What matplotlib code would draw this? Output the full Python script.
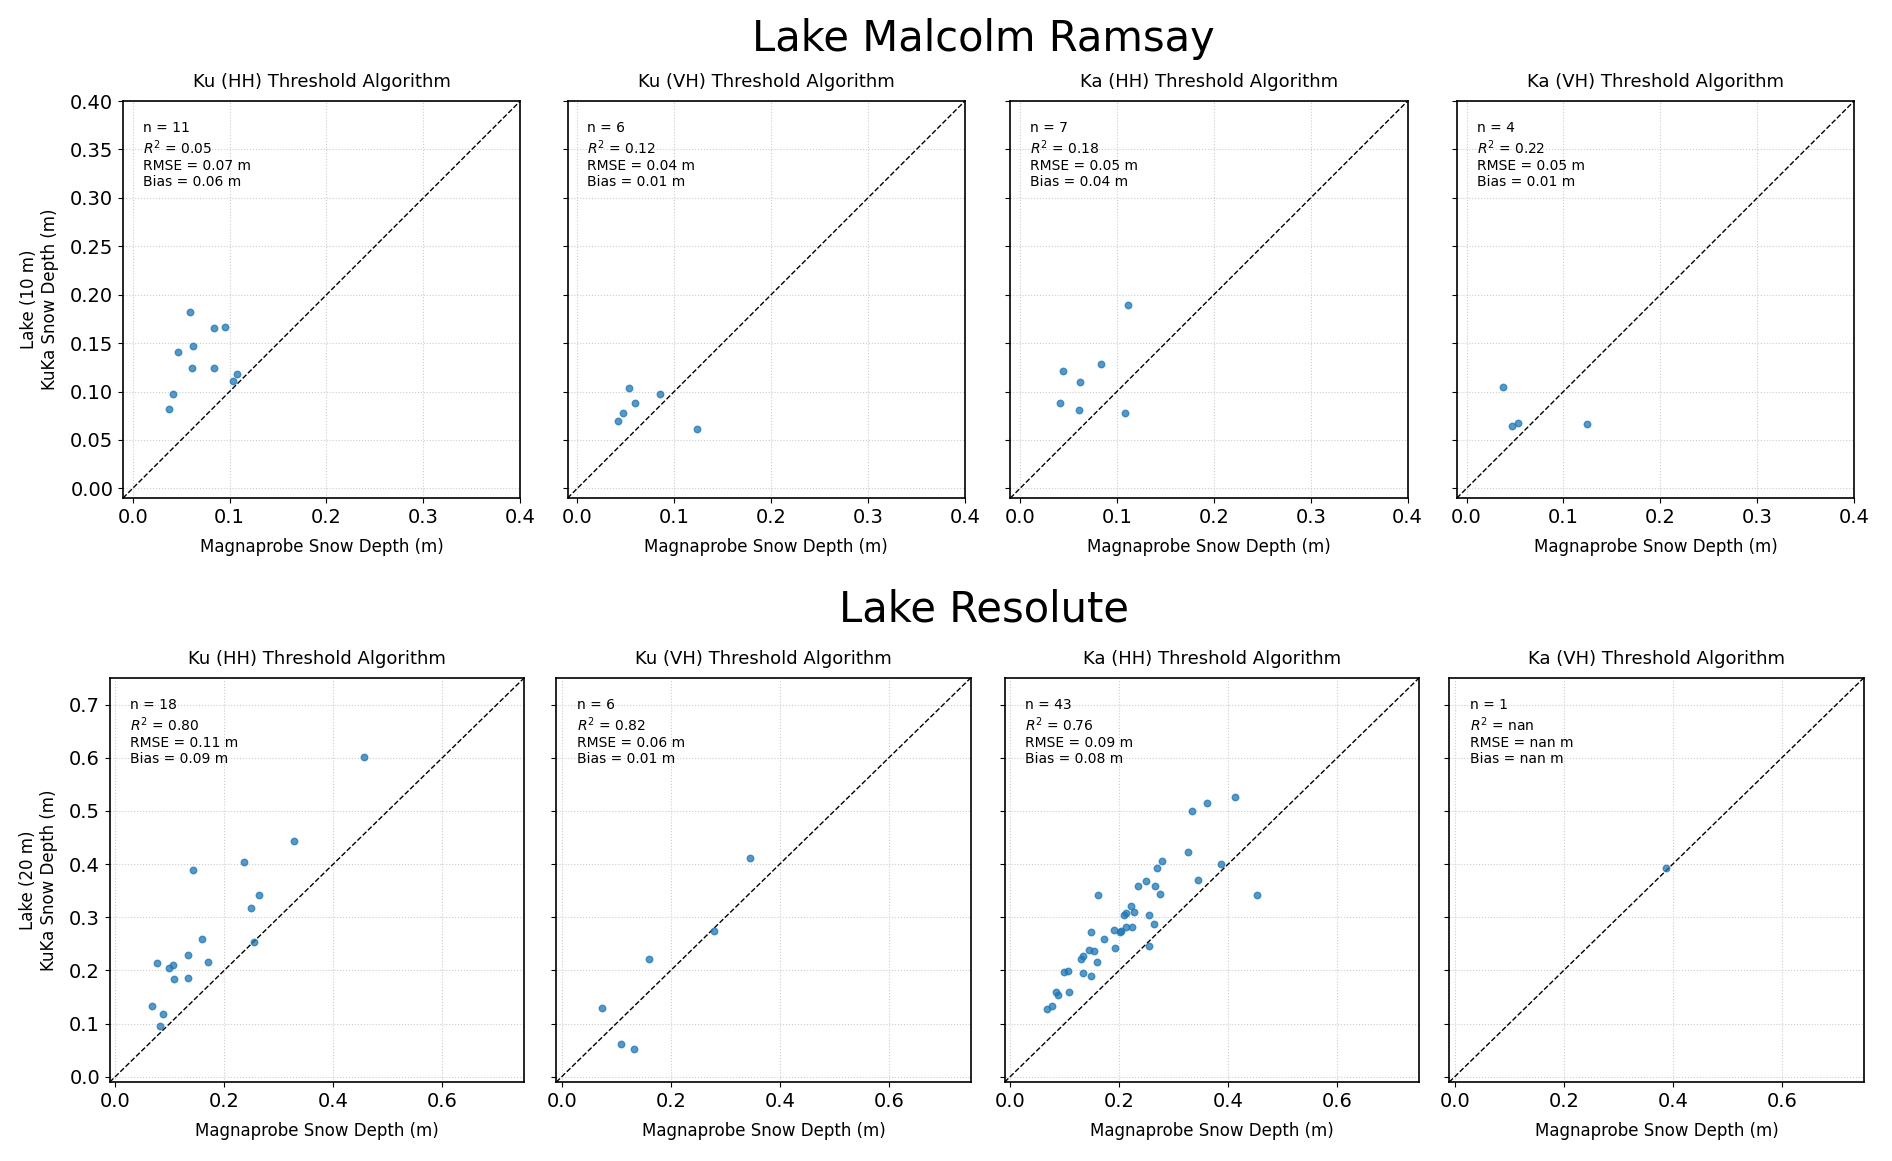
import matplotlib.pyplot as plt
import numpy as np

titles = ["Ku (HH) Threshold Algorithm", "Ku (VH) Threshold Algorithm",
          "Ka (HH) Threshold Algorithm", "Ka (VH) Threshold Algorithm"]

# Lake Malcolm Ramsay (10 m)
mr_ku_hh_x = [0.038, 0.042, 0.047, 0.059, 0.061, 0.062, 0.084, 0.095, 0.084, 0.104, 0.108]
mr_ku_hh_y = [0.082, 0.097, 0.141, 0.182, 0.124, 0.147, 0.166, 0.167, 0.124, 0.111, 0.118]
mr_ku_vh_x = [0.042, 0.047, 0.053, 0.060, 0.085, 0.124]
mr_ku_vh_y = [0.070, 0.078, 0.104, 0.088, 0.097, 0.061]
mr_ka_hh_x = [0.041, 0.044, 0.061, 0.062, 0.084, 0.108, 0.111]
mr_ka_hh_y = [0.088, 0.121, 0.081, 0.110, 0.128, 0.078, 0.189]
mr_ka_vh_x = [0.038, 0.047, 0.053, 0.124]
mr_ka_vh_y = [0.105, 0.064, 0.068, 0.066]
mr_stats = [("11", "0.05", "0.07", "0.06"), ("6", "0.12", "0.04", "0.01"),
            ("7", "0.18", "0.05", "0.04"), ("4", "0.22", "0.05", "0.01")]

# Lake Resolute (20 m)
re_ku_hh_x = [0.067, 0.087, 0.083, 0.076, 0.098, 0.106, 0.108, 0.133, 0.134, 0.160,
              0.171, 0.143, 0.236, 0.249, 0.264, 0.254, 0.328, 0.456]
re_ku_hh_y = [0.133, 0.118, 0.096, 0.214, 0.204, 0.211, 0.184, 0.229, 0.186, 0.259,
              0.216, 0.388, 0.404, 0.318, 0.342, 0.254, 0.444, 0.601]
re_ku_vh_x = [0.074, 0.108, 0.132, 0.160, 0.279, 0.346]
re_ku_vh_y = [0.130, 0.061, 0.053, 0.221, 0.274, 0.412]
re_ka_hh_x = [0.068, 0.076, 0.085, 0.088, 0.108, 0.099, 0.106, 0.133, 0.148, 0.130,
              0.133, 0.144, 0.153, 0.159, 0.148, 0.161, 0.172, 0.191, 0.193, 0.201,
              0.204, 0.212, 0.223, 0.209, 0.213, 0.222, 0.228, 0.255, 0.264, 0.255,
              0.235, 0.249, 0.265, 0.275, 0.269, 0.278, 0.327, 0.344, 0.387, 0.334,
              0.362, 0.413, 0.453]
re_ka_hh_y = [0.127, 0.133, 0.160, 0.153, 0.159, 0.197, 0.199, 0.195, 0.189, 0.221,
              0.228, 0.239, 0.236, 0.216, 0.273, 0.341, 0.259, 0.276, 0.243, 0.273,
              0.274, 0.282, 0.282, 0.304, 0.308, 0.322, 0.310, 0.304, 0.288, 0.246,
              0.358, 0.368, 0.359, 0.344, 0.393, 0.405, 0.423, 0.371, 0.401, 0.499,
              0.514, 0.526, 0.342]
re_ka_vh_x = [0.388]
re_ka_vh_y = [0.393]
re_stats = [("18", "0.80", "0.11", "0.09"), ("6", "0.82", "0.06", "0.01"),
            ("43", "0.76", "0.09", "0.08"), ("1", "nan", "nan", "nan")]

rows = [
    dict(data=[(mr_ku_hh_x, mr_ku_hh_y), (mr_ku_vh_x, mr_ku_vh_y),
               (mr_ka_hh_x, mr_ka_hh_y), (mr_ka_vh_x, mr_ka_vh_y)],
         stats=mr_stats, lim=0.4, ylabel="Lake (10 m)\nKuKa Snow Depth (m)",
         lefts=[0.065, 0.300, 0.534, 0.770], bottom=0.571, w=0.210, h=0.342,
         xticks=np.arange(0, 0.41, 0.1), yticks=np.arange(0, 0.41, 0.05), yfmt="%.2f"),
    dict(data=[(re_ku_hh_x, re_ku_hh_y), (re_ku_vh_x, re_ku_vh_y),
               (re_ka_hh_x, re_ka_hh_y), (re_ka_vh_x, re_ka_vh_y)],
         stats=re_stats, lim=0.75, ylabel="Lake (20 m)\nKuKa Snow Depth (m)",
         lefts=[0.058, 0.294, 0.531, 0.766], bottom=0.068, w=0.219, h=0.348,
         xticks=np.arange(0, 0.61, 0.2), yticks=np.arange(0, 0.71, 0.1), yfmt="%.1f"),
]

fig = plt.figure(figsize=(18.92, 11.61), dpi=100)
fig.text(0.52, 0.966, "Lake Malcolm Ramsay", ha="center", va="center", fontsize=30)
fig.text(0.52, 0.475, "Lake Resolute", ha="center", va="center", fontsize=30)

for row in rows:
    lim = row["lim"]
    for i in range(4):
        ax = fig.add_axes([row["lefts"][i], row["bottom"], row["w"], row["h"]])
        x, y = row["data"][i]
        ax.scatter(x, y, s=22, color="tab:blue", alpha=0.75, zorder=3)
        ax.plot([-0.01, lim], [-0.01, lim], "k--", lw=1)
        ax.set_xlim(-0.01, lim)
        ax.set_ylim(-0.01, lim)
        ax.set_xticks(row["xticks"])
        ax.set_yticks(row["yticks"])
        ax.xaxis.set_major_formatter(plt.FormatStrFormatter("%.1f"))
        ax.yaxis.set_major_formatter(plt.FormatStrFormatter(row["yfmt"]))
        ax.tick_params(labelsize=14)
        if i > 0:
            ax.set_yticklabels([])
        else:
            ax.set_ylabel(row["ylabel"], fontsize=12, labelpad=8)
        ax.grid(True, linestyle=":", color="#cccccc")
        ax.set_title(titles[i], fontsize=13, pad=10)
        ax.set_xlabel("Magnaprobe Snow Depth (m)", fontsize=12, labelpad=8)
        n, r2, rmse, bias = row["stats"][i]
        ax.text(0.05, 0.95, "n = %s\n$R^2$ = %s\nRMSE = %s m\nBias = %s m" % (n, r2, rmse, bias),
                transform=ax.transAxes, va="top", ha="left", fontsize=10)
        for s in ax.spines.values():
            s.set_linewidth(1.2)

fig.savefig("out.png", dpi=100)
